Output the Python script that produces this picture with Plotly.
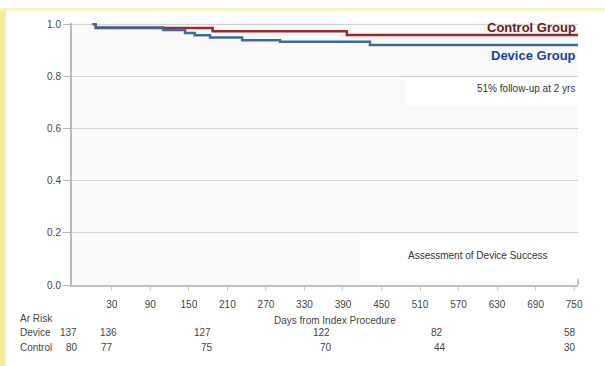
import plotly.graph_objects as go

# ---- data ----
control_days = [0, 5, 187, 396, 756]
control_surv = [1.0, 0.985, 0.972, 0.958, 0.958]
device_days = [0, 5, 110, 144, 159, 183, 233, 292, 432, 756]
device_surv = [1.0, 0.987, 0.977, 0.966, 0.957, 0.948, 0.938, 0.932, 0.920, 0.920]

x_ticks = [30, 90, 150, 210, 270, 330, 390, 450, 510, 570, 630, 690, 750]
y_ticks = [0.0, 0.2, 0.4, 0.6, 0.8, 1.0]

device_risk = ["137", "136", "127", "122", "82", "58"]
device_risk_days = [-38, 25, 172, 357, 536, 744]
control_risk = ["80", "77", "75", "70", "44", "30"]
control_risk_days = [-32, 22, 178, 363, 541, 744]

# ---- layout constants (pixels) ----
W, H = 605, 366
L, R, T, B = 72, 27, 23, 81
PW, PH = W - L - R, H - T - B
XR = [-32, 756]


def px(xp):
    return (xp - L) / PW


def py(yp):
    return (H - B - yp) / PH


def dx(day):
    return (day - XR[0]) / (XR[1] - XR[0])


FONT = "Liberation Sans, Arial, sans-serif"
TXT = "#454545"

fig = go.Figure()
fig.add_trace(go.Scatter(x=control_days, y=control_surv, mode="lines",
                         line=dict(color="#9a2a2a", width=2.5, shape="hv"),
                         name="Control Group", hoverinfo="skip"))
fig.add_trace(go.Scatter(x=device_days, y=device_surv, mode="lines",
                         line=dict(color="#3d6a9c", width=2.5, shape="hv"),
                         name="Device Group", hoverinfo="skip"))

shapes = [
    dict(type="rect", xref="paper", yref="paper", x0=px(405), x1=1, y0=py(106), y1=py(78),
         fillcolor="white", line=dict(width=0), layer="below"),
    dict(type="rect", xref="paper", yref="paper", x0=px(360), x1=1, y0=py(282), y1=py(236),
         fillcolor="white", line=dict(width=0), layer="below"),
    dict(type="rect", xref="paper", yref="paper", x0=px(0), x1=px(6), y0=py(H), y1=py(9),
         fillcolor="#f4ec98", line=dict(width=0), layer="below"),
    dict(type="rect", xref="paper", yref="paper", x0=px(0), x1=px(W), y0=py(11), y1=py(8),
         fillcolor="#faf5b8", line=dict(width=0), layer="below"),
    dict(type="line", xref="paper", yref="paper", x0=1, x1=1, y0=0, y1=py(279),
         line=dict(color="#b0b0b0", width=1.5)),
]

ann = []
ann.append(dict(text="<b>Control Group</b>", x=1, y=py(27), xref="paper", yref="paper",
                xanchor="right", yanchor="middle", showarrow=False,
                font=dict(family=FONT, size=13, color="#6a1818")))
ann.append(dict(text="<b>Device Group</b>", x=1, y=py(55), xref="paper", yref="paper",
                xanchor="right", yanchor="middle", showarrow=False,
                font=dict(family=FONT, size=13, color="#1a3f9a")))
ann.append(dict(text="51% follow-up at 2 yrs", x=px(577), y=py(88), xref="paper", yref="paper",
                xanchor="right", yanchor="middle", showarrow=False,
                font=dict(family=FONT, size=10, color="#333333")))
ann.append(dict(text="Assessment of Device Success", x=px(478), y=py(255), xref="paper", yref="paper",
                xanchor="center", yanchor="middle", showarrow=False,
                font=dict(family=FONT, size=10, color="#333333")))
ann.append(dict(text="Days from Index Procedure", x=px(335), y=py(320), xref="paper", yref="paper",
                xanchor="center", yanchor="middle", showarrow=False,
                font=dict(family=FONT, size=10, color=TXT)))
for label, yy in [("Ar Risk", 318), ("Device", 332), ("Control", 347)]:
    ann.append(dict(text=label, x=px(18), y=py(yy), xref="paper", yref="paper",
                    xanchor="left", yanchor="middle", showarrow=False,
                    font=dict(family=FONT, size=10, color=TXT)))
for d, t in zip(device_risk_days, device_risk):
    ann.append(dict(text=t, x=dx(d), y=py(332), xref="paper", yref="paper",
                    xanchor="center", yanchor="middle", showarrow=False,
                    font=dict(family=FONT, size=10, color=TXT)))
for d, t in zip(control_risk_days, control_risk):
    ann.append(dict(text=t, x=dx(d), y=py(347), xref="paper", yref="paper",
                    xanchor="center", yanchor="middle", showarrow=False,
                    font=dict(family=FONT, size=10, color=TXT)))

fig.update_layout(
    width=W, height=H,
    margin=dict(l=L, r=R, t=T, b=B, pad=0),
    paper_bgcolor="white",
    plot_bgcolor="#f9f9f9",
    showlegend=False,
    shapes=shapes,
    annotations=ann,
    xaxis=dict(range=XR, tickvals=x_ticks, ticktext=[str(v) for v in x_ticks],
               showgrid=False, zeroline=False, showline=True, linecolor="#c0c0c0", linewidth=1.5,
               ticks="outside", ticklen=4, tickcolor="#c8c8c8", ticklabelstandoff=5,
               tickfont=dict(family=FONT, size=10, color=TXT)),
    yaxis=dict(range=[0, 1.004], tickvals=y_ticks, ticktext=[f"{v:.1f}" for v in y_ticks],
               showgrid=True, gridcolor="#d2d2d2", gridwidth=1, zeroline=False,
               showline=True, linecolor="#b8b8b8", linewidth=2,
               ticks="outside", ticklen=7, tickcolor="#b8b8b8",
               tickfont=dict(family=FONT, size=10, color=TXT)),
)

fig.write_html("out.html", config={"displayModeBar": False},
               post_script="document.body.style.margin='0';")
